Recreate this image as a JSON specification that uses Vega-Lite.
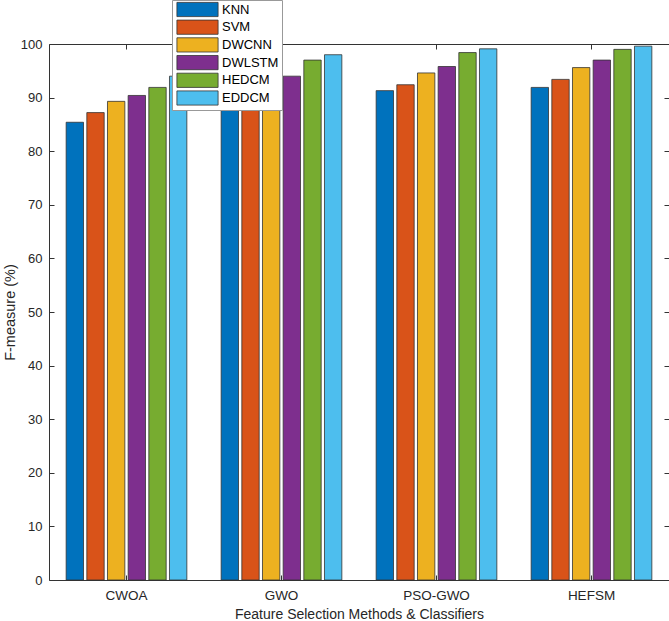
{
  "$schema": "https://vega.github.io/schema/vega-lite/v6.json",
  "width": 620,
  "height": 536,
  "autosize": {"type": "none"},
  "padding": {"left": 49, "top": 44, "right": 0, "bottom": 41},
  "background": "white",
  "config": {
    "font": "Liberation Sans",
    "view": {"stroke": "#333333", "strokeWidth": 1},
    "axis": {"domain": false, "grid": false, "tickColor": "#333333", "labelColor": "#262626", "titleColor": "#262626", "labelFontSize": 13, "titleFontSize": 14, "titleFontWeight": "normal"}
  },
  "data": {
    "values": [
      {"method": "CWOA", "classifier": "KNN", "f": 85.4},
      {"method": "CWOA", "classifier": "SVM", "f": 87.2},
      {"method": "CWOA", "classifier": "DWCNN", "f": 89.3},
      {"method": "CWOA", "classifier": "DWLSTM", "f": 90.4},
      {"method": "CWOA", "classifier": "HEDCM", "f": 91.9},
      {"method": "CWOA", "classifier": "EDDCM", "f": 94.0},
      {"method": "GWO", "classifier": "KNN", "f": 89.8},
      {"method": "GWO", "classifier": "SVM", "f": 91.2},
      {"method": "GWO", "classifier": "DWCNN", "f": 92.6},
      {"method": "GWO", "classifier": "DWLSTM", "f": 94.0},
      {"method": "GWO", "classifier": "HEDCM", "f": 97.0},
      {"method": "GWO", "classifier": "EDDCM", "f": 98.0},
      {"method": "PSO-GWO", "classifier": "KNN", "f": 91.3},
      {"method": "PSO-GWO", "classifier": "SVM", "f": 92.4},
      {"method": "PSO-GWO", "classifier": "DWCNN", "f": 94.6},
      {"method": "PSO-GWO", "classifier": "DWLSTM", "f": 95.8},
      {"method": "PSO-GWO", "classifier": "HEDCM", "f": 98.4},
      {"method": "PSO-GWO", "classifier": "EDDCM", "f": 99.1},
      {"method": "HEFSM", "classifier": "KNN", "f": 91.9},
      {"method": "HEFSM", "classifier": "SVM", "f": 93.4},
      {"method": "HEFSM", "classifier": "DWCNN", "f": 95.6},
      {"method": "HEFSM", "classifier": "DWLSTM", "f": 97.0},
      {"method": "HEFSM", "classifier": "HEDCM", "f": 99.0},
      {"method": "HEFSM", "classifier": "EDDCM", "f": 99.6}
    ]
  },
  "resolve": {"axis": {"x": "independent", "y": "independent"}},
  "layer": [
    {
      "mark": {"type": "bar", "stroke": "#333333", "strokeWidth": 0.8},
      "encoding": {
        "x": {
          "field": "method", "type": "nominal", "sort": null,
          "scale": {"paddingInner": 0.2, "paddingOuter": 0.1},
          "axis": {"orient": "bottom", "labelAngle": 0, "tickSize": -5, "labelPadding": 13, "labelFontSize": 13.5, "title": "Feature Selection Methods & Classifiers", "titlePadding": 6}
        },
        "xOffset": {
          "field": "classifier", "type": "nominal", "sort": ["KNN", "SVM", "DWCNN", "DWLSTM", "HEDCM", "EDDCM"],
          "scale": {"paddingInner": 0.16, "paddingOuter": 0.08}
        },
        "y": {
          "field": "f", "type": "quantitative",
          "scale": {"domain": [0, 100], "nice": false},
          "axis": {"values": [0,10,20,30,40,50,60,70,80,90,100], "tickSize": -5, "labelPadding": 12, "title": "F-measure (%)", "titleFontSize": 14.5, "titlePadding": 3}
        },
        "color": {
          "field": "classifier", "type": "nominal", "sort": ["KNN", "SVM", "DWCNN", "DWLSTM", "HEDCM", "EDDCM"],
          "scale": {"range": ["#0072BD", "#D95319", "#EDB120", "#7E2F8E", "#77AC30", "#4DBEEE"]},
          "legend": {
            "title": null, "orient": "none", "legendX": 123, "legendY": -44,
            "symbolType": "M-5.5,-1.9H5.5V1.9H-5.5Z", "symbolSize": 56,
            "symbolStrokeColor": "#333333", "symbolStrokeWidth": 0.8, "symbolOpacity": 1,
            "symbolOffset": 16,
            "labelFontSize": 13, "labelColor": "#000000", "labelOffset": 18,
            "rowPadding": -1.3, "padding": 3,
            "strokeColor": "#999999", "fillColor": "white"
          }
        }
      }
    },
    {
      "mark": {"type": "bar", "opacity": 0},
      "encoding": {
        "x": {
          "field": "method", "type": "nominal", "sort": null,
          "axis": {"orient": "top", "labels": false, "title": null, "tickSize": -5}
        },
        "xOffset": {"field": "classifier", "type": "nominal", "sort": ["KNN", "SVM", "DWCNN", "DWLSTM", "HEDCM", "EDDCM"]},
        "y": {
          "field": "f", "type": "quantitative",
          "axis": {"orient": "right", "values": [0,10,20,30,40,50,60,70,80,90,100], "labels": false, "title": null, "tickSize": -5}
        }
      }
    }
  ]
}
